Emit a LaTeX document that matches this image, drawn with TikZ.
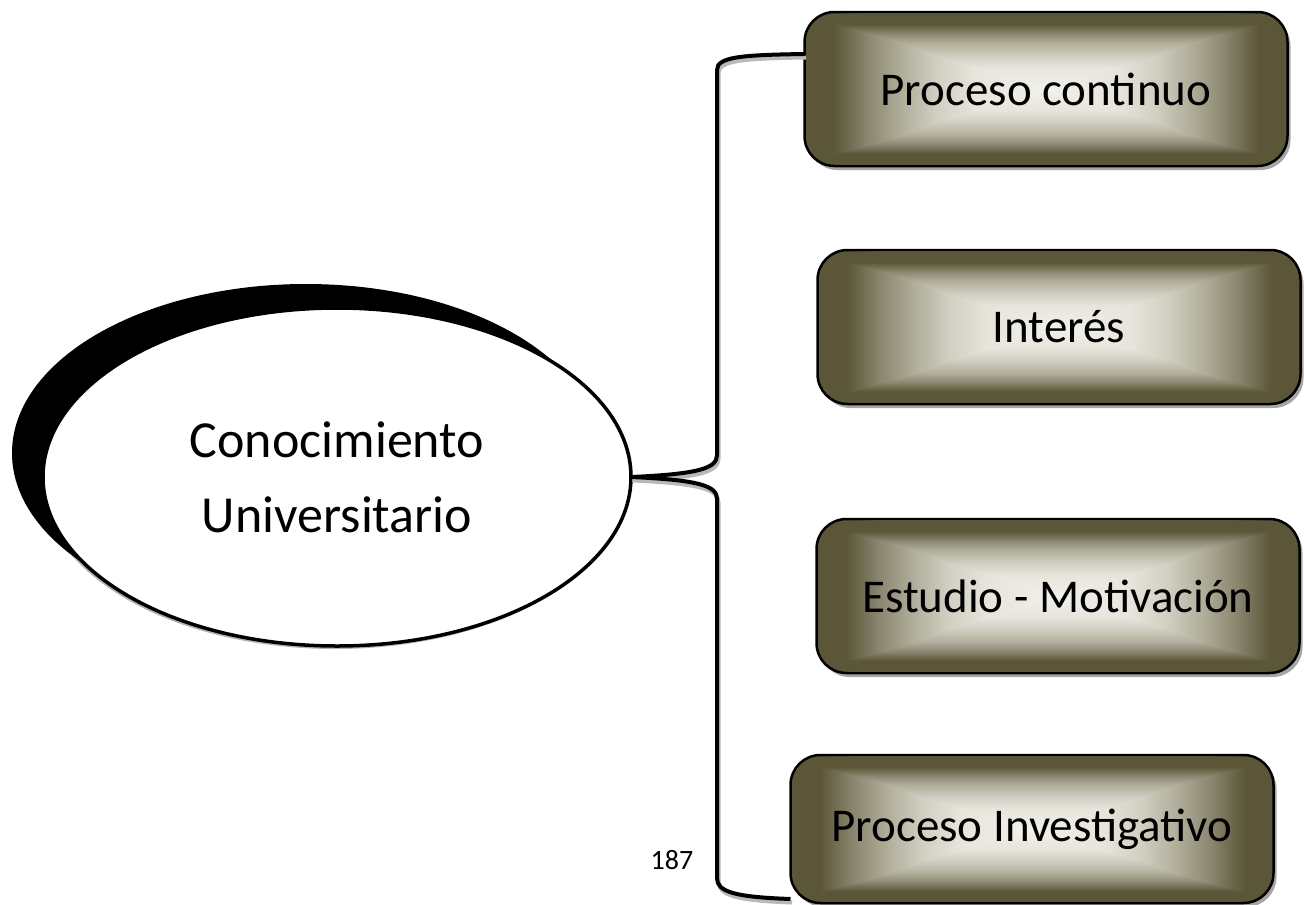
\documentclass[tikz,border=0pt]{standalone}
\usepackage{fontspec}
\setmainfont{Carlito}
\usetikzlibrary{positioning}
\usetikzlibrary{shapes.geometric}
\usetikzlibrary{shadows}
\definecolor{olv}{HTML}{5B5637}
\definecolor{olv2}{HTML}{8A8670}
\definecolor{olv3}{HTML}{B0AD9A}
\definecolor{olv4}{HTML}{D2D0C3}
\definecolor{olv5}{HTML}{E6E4DB}
\definecolor{olvlt}{HTML}{F2F1EA}
\pgfdeclarehorizontalshading{hglow}{100bp}{color(0bp)=(olv); color(28bp)=(olv); color(31.5bp)=(olv2); color(35bp)=(olv3); color(38.75bp)=(olv4); color(42.5bp)=(olv5); color(50bp)=(olvlt); color(57.5bp)=(olv5); color(61.25bp)=(olv4); color(65bp)=(olv3); color(68.5bp)=(olv2); color(72bp)=(olv); color(100bp)=(olv)}
\pgfdeclareverticalshading{vglow}{100bp}{color(0bp)=(olv); color(29bp)=(olv); color(32bp)=(olv2); color(35bp)=(olv3); color(39.5bp)=(olv4); color(43bp)=(olv5); color(50bp)=(olvlt); color(57bp)=(olv5); color(60.5bp)=(olv4); color(65bp)=(olv3); color(68bp)=(olv2); color(71bp)=(olv); color(100bp)=(olv)}
\tikzset{bx/.style={rectangle, rounded corners=30pt, draw, line width=2.5pt, shading=hglow, postaction={shading=vglow, blend mode=darken}, minimum width=483pt, minimum height=154pt, inner sep=0pt, outer sep=0pt, font=\fontsize{47}{56}\selectfont, drop shadow={shadow xshift=3pt, shadow yshift=-4pt, fill=black, opacity=.35}}}
\tikzset{el/.style={ellipse, draw, line width=3.5pt, fill=white, minimum width=588pt, minimum height=338pt, inner sep=0pt, outer sep=0pt, align=center, font=\fontsize{52}{75}\selectfont, general shadow={fill=gray!60, shadow xshift=-2pt, shadow yshift=-3pt}, general shadow={fill=black, shadow xshift=-31pt, shadow yshift=24pt}}}
\tikzset{br/.style={line width=4pt, line join=round, preaction={draw=gray!55, line width=4pt, transform canvas={xshift=1.5pt, yshift=-3.5pt}}}}

\begin{document}
\begin{tikzpicture}[x=1pt, y=-1pt]
        \useasboundingbox (0,0) rectangle (1304,905);
        \node[el] (C) at (337,477) {Conocimiento\\Universitario};
        \node[bx] (P1) at (1046,89) {Proceso continuo};
        \node[bx] (P2) at (1059,327) {Interés};
        \node[bx] (P3) at (1058,596) {Estudio - Motivación};
        \node[bx, minimum height=148pt] (P4) at (1032,829) {Proceso Investigativo};
        \node[font=\fontsize{28}{30}\selectfont] (N) at (672,860) {187};

        \draw[br] ([yshift=-42pt]P1.north west) .. controls (740,55) and (717,57) .. (717,70)
            -- (717,455) .. controls (717,468) and (700,474) .. (C.east)
            .. controls (700,480) and (717,486) .. (717,499)
            -- (717,878) .. controls (717,892) and (735,897) .. ([yshift=4pt]P4.south west);
    \end{tikzpicture}
\end{document}
